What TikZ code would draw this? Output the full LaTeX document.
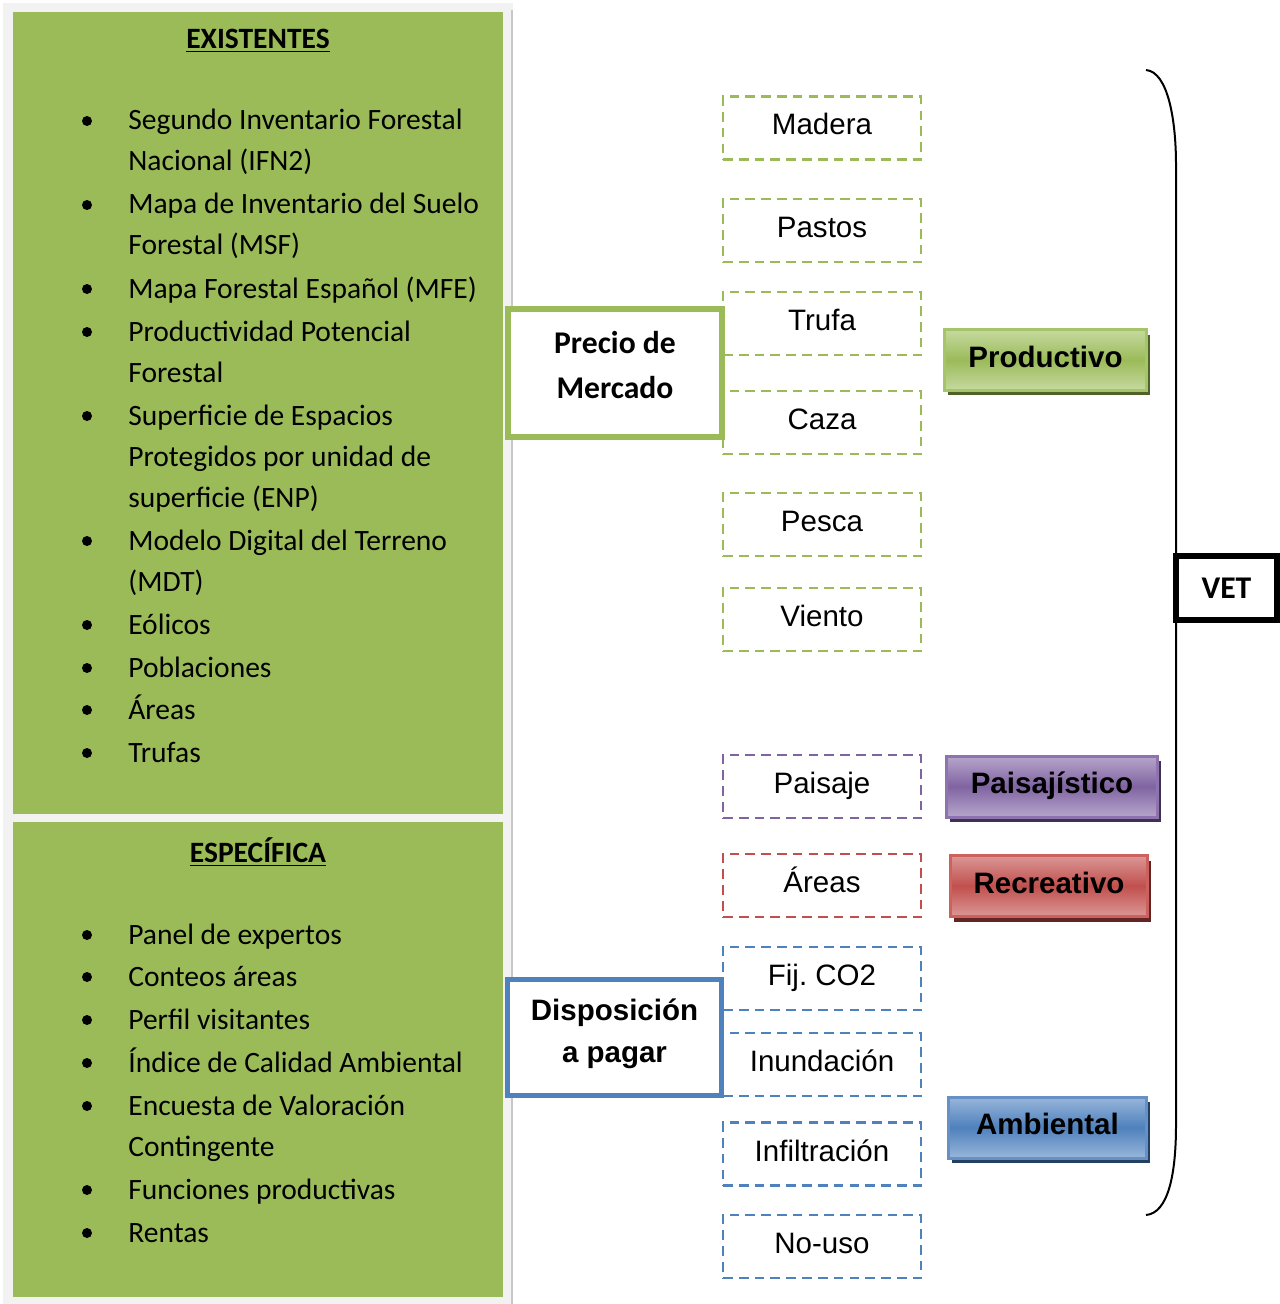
\documentclass[tikz,border=0pt]{standalone}
\usepackage{fontspec}
\setmainfont{Carlito}
\newfontfamily\arialfont{Liberation Sans}
\usepackage{tikz}
\usetikzlibrary{positioning}
\usetikzlibrary{shadows}

\definecolor{panelGreen}{HTML}{9BBB59}
\definecolor{frameGray}{HTML}{F2F2F2}
\definecolor{frameLine}{HTML}{C8C8C8}
\definecolor{dashGreen}{HTML}{9BBB59}
\definecolor{dashPurple}{HTML}{8064A2}
\definecolor{dashRed}{HTML}{C0504D}
\definecolor{dashBlue}{HTML}{4F81BD}
\definecolor{prodLight}{HTML}{C6D9A0}
\definecolor{prodMid}{HTML}{9BBB59}
\definecolor{prodBorder}{HTML}{A6C46A}
\definecolor{prodDark}{HTML}{4F6228}
\definecolor{paisLight}{HTML}{B7A6CB}
\definecolor{paisMid}{HTML}{8064A2}
\definecolor{paisBorder}{HTML}{8E74AE}
\definecolor{paisDark}{HTML}{3F3151}
\definecolor{recrLight}{HTML}{DB9896}
\definecolor{recrMid}{HTML}{C0504D}
\definecolor{recrBorder}{HTML}{CC615E}
\definecolor{recrDark}{HTML}{632523}
\definecolor{ambLight}{HTML}{98B6DA}
\definecolor{ambMid}{HTML}{4F81BD}
\definecolor{ambBorder}{HTML}{6690C6}
\definecolor{ambDark}{HTML}{244061}

\tikzset{
  listText/.style={anchor=base west, inner sep=0pt, font=\fontsize{16.8}{20}\selectfont},
  listBullet/.style={circle, fill=black, inner sep=0pt, minimum size=0.2cm},
  panelTitle/.style={font=\bfseries\fontsize{16.8}{20}\selectfont},
  valueBox/.style={rectangle, draw=#1, dash pattern=on 5.5pt off 3.5pt, line width=1.4pt, minimum width=3.96cm, minimum height=1.26cm, text height=0.42cm, text depth=0.14cm, font=\arialfont\fontsize{16.8}{20}\selectfont},
  catBox/.style={rectangle, draw=#1Border, line width=0.06cm, top color=#1Light, bottom color=#1Light, middle color=#1Mid, general shadow={fill=#1Dark, shadow xshift=0.07cm, shadow yshift=-0.1cm}, minimum height=1.22cm, text height=0.42cm, text depth=0.14cm, font=\arialfont\bfseries\fontsize{16.8}{20}\selectfont}
}

\begin{document}
\begin{tikzpicture}[x=0.02cm, y=-0.02cm]
		\useasboundingbox (0,0) rectangle (1280,1304);
		\fill[frameGray] (3,3) rectangle (513,1304);
		\draw[frameLine, line width=0.05cm] (512,10) -- (512,1304);
		\fill[panelGreen] (13,12) rectangle (503,814);
		\fill[panelGreen] (13,822) rectangle (503,1297);
		\node[panelTitle](existTitle) at (258,41){\underline{EXISTENTES}};
		\node[panelTitle](especTitle) at (258,852){\underline{ESPECÍFICA}};
		\foreach \y/\txt [count=\i] in {130/{Segundo Inventario Forestal}, 171/{Nacional (IFN2)}, 214/{Mapa de Inventario del Suelo}, 255/{Forestal (MSF)}, 298/{Mapa Forestal Español (MFE)}, 341/{Productividad Potencial}, 382/{Forestal}, 425/{Superficie de Espacios}, 466/{Protegidos por unidad de}, 507/{superficie (ENP)}, 550/{Modelo Digital del Terreno}, 591/{(MDT)}, 634/{Eólicos}, 677/{Poblaciones}, 719/{Áreas}, 762/{Trufas}}
			\node[listText](existLine\i) at (128,\y){\txt};
		\foreach \y [count=\i] in {121,205,289,332,416,541,625,668,710,753}
			\node[listBullet](existBullet\i) at (87,\y){};
		\foreach \y/\txt [count=\i] in {944/{Panel de expertos}, 986/{Conteos áreas}, 1029/{Perfil visitantes}, 1072/{Índice de Calidad Ambiental}, 1115/{Encuesta de Valoración}, 1156/{Contingente}, 1199/{Funciones productivas}, 1242/{Rentas}}
			\node[listText](especLine\i) at (128,\y){\txt};
		\foreach \y [count=\i] in {935,977,1020,1063,1106,1190,1233}
			\node[listBullet](especBullet\i) at (87,\y){};
		\node[valueBox=dashGreen](maderaBox) at (822,128){Madera};
		\node[valueBox=dashGreen](pastosBox) at (822,230.5){Pastos};
		\node[valueBox=dashGreen](trufaBox) at (822,323.5){Trufa};
		\node[valueBox=dashGreen](cazaBox) at (822,422.5){Caza};
		\node[valueBox=dashGreen](pescaBox) at (822,524.5){Pesca};
		\node[valueBox=dashGreen](vientoBox) at (822,619.5){Viento};
		\node[valueBox=dashPurple](paisajeBox) at (822,786.5){Paisaje};
		\node[valueBox=dashRed](areasBox) at (822,885.5){Áreas};
		\node[valueBox=dashBlue](fijBox) at (822,978.5){Fij.\ CO2};
		\node[valueBox=dashBlue](inundBox) at (822,1064.5){Inundación};
		\node[valueBox=dashBlue](infiltBox) at (822,1154){Infiltración};
		\node[valueBox=dashBlue](noUsoBox) at (822,1246.5){No-uso};
		\node[rectangle, draw=panelGreen, line width=0.12cm, fill=white, minimum width=4.28cm, minimum height=2.56cm](precioBox) at (615,373){};
		\node[align=center, font=\bfseries\fontsize{18}{25.5}\selectfont](precioLabel) at (615,365){Precio de\\Mercado};
		\node[rectangle, draw=dashBlue, line width=0.1cm, fill=white, minimum width=4.28cm, minimum height=2.32cm](dispBox) at (614.5,1037.5){};
		\node[align=center, font=\arialfont\bfseries\fontsize{16.8}{23.8}\selectfont](dispLabel) at (614.5,1034){Disposición\\a pagar};
		\node[catBox=prod, minimum width=4.04cm](prodBox) at (1045.5,360){Productivo};
		\node[catBox=pais, minimum width=4.24cm](paisBox) at (1052,786.5){Paisajístico};
		\node[catBox=recr, minimum width=3.96cm](recrBox) at (1049,886){Recreativo};
		\node[catBox=amb, minimum width=3.98cm](ambBox) at (1047.5,1127.5){Ambiental};
		\coordinate(braceTop) at (1146,70);
		\coordinate(braceBottom) at (1146,1215);
		\draw[line width=0.04cm] (braceTop) .. controls (1168,72) and (1176,120) .. (1176,165) -- (1176,1125) .. controls (1176,1175) and (1168,1213) .. (braceBottom);
		\node[rectangle, draw=black, line width=0.12cm, fill=white, minimum width=2.02cm, minimum height=1.28cm, font=\bfseries\fontsize{18}{22}\selectfont](vetBox) at (1226.5,588){VET};
	\end{tikzpicture}
\end{document}
